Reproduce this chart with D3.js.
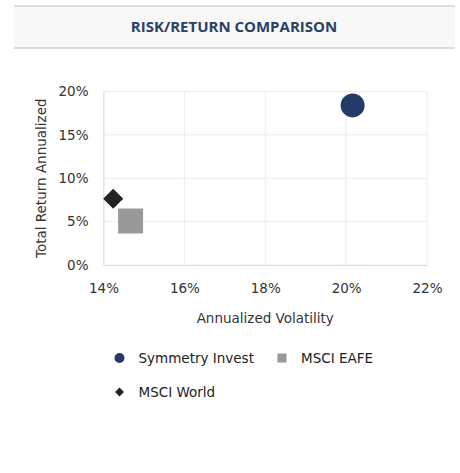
<!DOCTYPE html>
<html>
<head>
<meta charset="utf-8">
<script src="https://cdn.jsdelivr.net/npm/d3@7"></script>
<style>
  body { margin: 0; background: #fff; }
  svg { display: block; }
</style>
</head>
<body>
<script>
// data
const series = ['Symmetry Invest', 'MSCI EAFE', 'MSCI World'];
const volatility = [20.16, 14.67, 14.24];
const returns = [18.4, 5.07, 7.64];
const colors = ['#233b66', '#999999', '#222222'];
const shapes = ['circle', 'square', 'diamond'];
const xTicks = [14, 16, 18, 20, 22];
const yTicks = [0, 5, 10, 15, 20];

const W = 460, H = 473;
const margin = {top: 91.5, left: 103.5, right: 33, bottom: 208};
const width = W - margin.left - margin.right;
const height = H - margin.top - margin.bottom;
const font = "'DejaVu Sans', Verdana, sans-serif";

const svg = d3.select('body').append('svg')
  .attr('width', W)
  .attr('height', H);

// header band
svg.append('rect').attr('x', 14).attr('y', 5).attr('width', 441).attr('height', 44).attr('fill', '#f8f8f8');
svg.append('rect').attr('x', 14).attr('y', 5).attr('width', 441).attr('height', 2).attr('fill', '#dcdcdc');
svg.append('rect').attr('x', 14).attr('y', 47).attr('width', 441).attr('height', 2).attr('fill', '#dcdcdc');
svg.append('text')
  .attr('x', 234).attr('y', 32)
  .attr('text-anchor', 'middle')
  .attr('font-family', "'Open Sans', sans-serif")
  .attr('font-weight', 700)
  .attr('font-size', 15)
  .attr('fill', '#2b4064')
  .text('RISK/RETURN COMPARISON');

const g = svg.append('g')
  .attr('transform', `translate(${margin.left},${margin.top})`);

const x = d3.scaleLinear().domain([14, 22]).range([0, width]);
const y = d3.scaleLinear().domain([0, 20]).range([height, 0]);

// grid
g.selectAll('.vgrid').data(xTicks).join('line')
  .attr('class', 'vgrid')
  .attr('x1', d => x(d)).attr('x2', d => x(d))
  .attr('y1', 0).attr('y2', height)
  .attr('stroke', '#ececec');
g.selectAll('.hgrid').data(yTicks).join('line')
  .attr('class', 'hgrid')
  .attr('x1', 0).attr('x2', width)
  .attr('y1', d => y(d)).attr('y2', d => y(d))
  .attr('stroke', '#ececec');

// axes
const xAxis = g.append('g')
  .attr('transform', `translate(0,${height})`)
  .call(d3.axisBottom(x).tickValues(xTicks).tickFormat(d => d + '%').tickSize(0).tickPadding(18));
const yAxis = g.append('g')
  .call(d3.axisLeft(y).tickValues(yTicks).tickFormat(d => d + '%').tickSize(0).tickPadding(15));
[xAxis, yAxis].forEach(a => {
  a.select('.domain').attr('stroke', '#dddddd');
  a.selectAll('text')
    .attr('font-family', font)
    .attr('font-size', 13.5)
    .attr('fill', '#333');
});

g.append('text')
  .attr('x', x(18)).attr('y', height + 58)
  .attr('text-anchor', 'middle')
  .attr('font-family', font)
  .attr('font-size', 13.5)
  .attr('fill', '#333')
  .text('Annualized Volatility');
g.append('text')
  .attr('transform', `translate(${-58},${height / 2}) rotate(-90)`)
  .attr('text-anchor', 'middle')
  .attr('font-family', font)
  .attr('font-size', 13.5)
  .attr('fill', '#333')
  .text('Total Return Annualized');

const symbolFor = (s, size) => {
  if (s === 'circle') return d3.symbol(d3.symbolCircle, size)();
  if (s === 'square') return d3.symbol(d3.symbolSquare, size)();
  return d3.symbol(d3.symbolDiamond2, size)();
};

const points = series.map((name, i) => ({name, vx: volatility[i], vy: returns[i], color: colors[i], shape: shapes[i]}));
const bigSize = {circle: Math.PI * 12 * 12, square: 25 * 25, diamond: 16 * 16};

g.selectAll('.pt').data(points).join('path')
  .attr('class', 'pt')
  .attr('transform', d => `translate(${x(d.vx)},${y(d.vy)})`)
  .attr('d', d => symbolFor(d.shape, bigSize[d.shape]))
  .attr('fill', d => d.color);

// legend
const legendPos = [[119.5, 358], [282, 358], [119.5, 392]];
const smallSize = {circle: Math.PI * 5 * 5, square: 81, diamond: 50};
const legend = svg.selectAll('.leg').data(points).join('g')
  .attr('class', 'leg')
  .attr('transform', (d, i) => `translate(${legendPos[i][0]},${legendPos[i][1]})`);
legend.append('path')
  .attr('d', d => symbolFor(d.shape, smallSize[d.shape]))
  .attr('fill', d => d.color);
legend.append('text')
  .attr('x', 19).attr('y', 5)
  .attr('font-family', font)
  .attr('font-size', 13.5)
  .attr('fill', '#222')
  .text(d => d.name);
</script>
</body>
</html>
